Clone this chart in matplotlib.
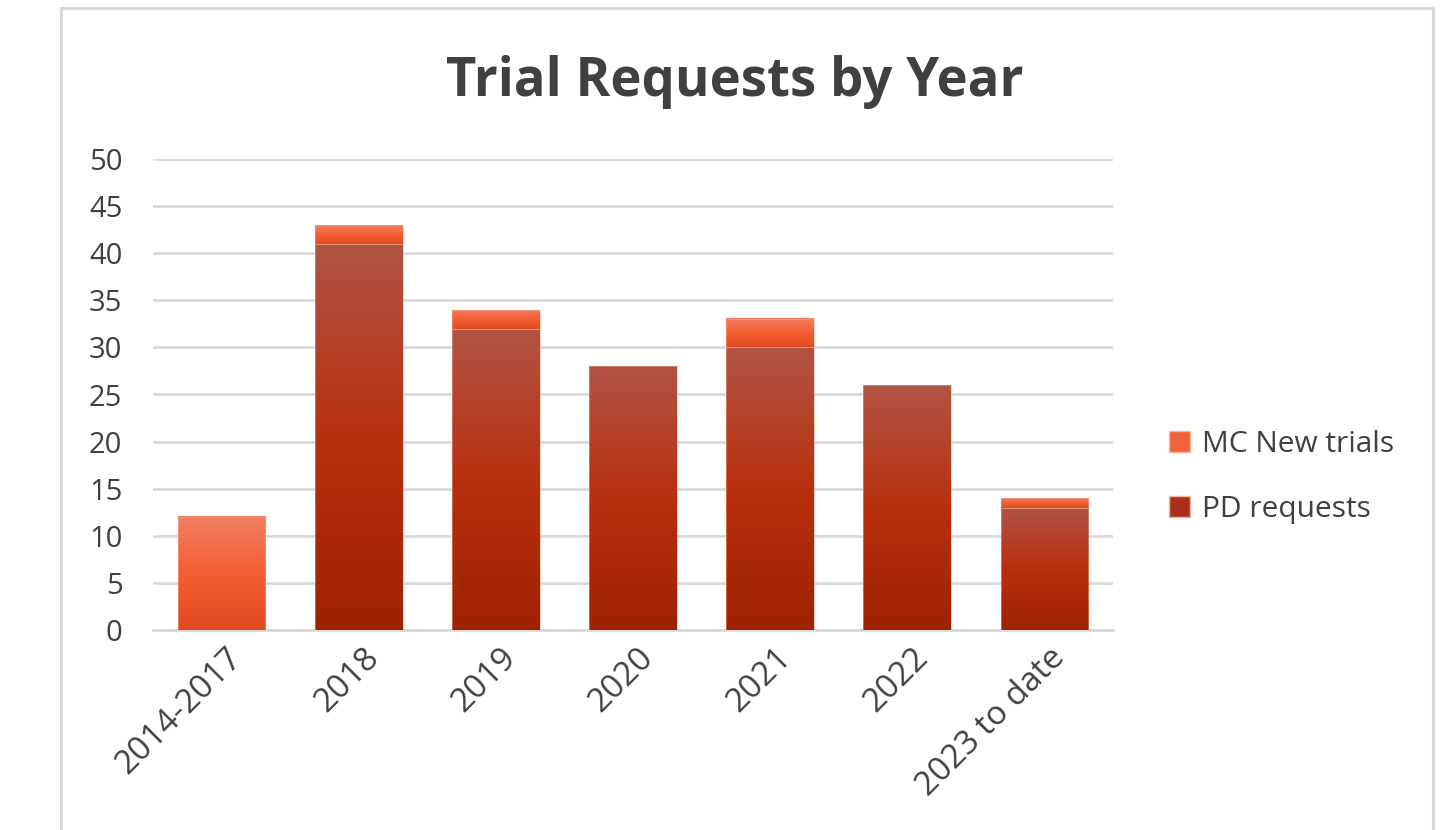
import numpy as np
import matplotlib.pyplot as plt
from matplotlib.colors import LinearSegmentedColormap
from matplotlib.patches import Rectangle, Patch
from matplotlib.transforms import ScaledTranslation

plt.rcParams['font.family'] = ['Open Sans', 'DejaVu Sans']

categories = ['2014-2017', '2018', '2019', '2020', '2021', '2022', '2023 to date']
pd_requests = [0, 41, 32, 28, 30, 26, 13]
mc_new_trials = [12, 2, 2, 0, 3, 0, 1]

# couleurs des degradés (bas -> haut)
cmap_pd = LinearSegmentedColormap.from_list('pd', ['#9E2200', '#B8300E', '#B05444'])
cmap_mc = LinearSegmentedColormap.from_list('mc', ['#E04A20', '#F45E33', '#F17E62'])
grid_col = '#D9D9D9'
txt_col = '#404040'

fig = plt.figure(figsize=(14.52, 8.30), dpi=100)
ax = fig.add_axes([153/1452, 1-630/830, 960/1452, 471/830])

# cadre gris autour du graphique
fig.patches.append(Rectangle((61/1452, -0.05), (1433-61)/1452, 1.05-8/830,
                             transform=fig.transFigure, fill=False,
                             edgecolor=grid_col, lw=2.2, zorder=0))

x = np.arange(len(categories))
w = 0.64
b1 = ax.bar(x, pd_requests, w, color='none', label='PD requests')
b2 = ax.bar(x, mc_new_trials, w, bottom=pd_requests, color='none', label='MC New trials')

grad = np.linspace(0, 1, 256).reshape(-1, 1)

def degrade(bars, cmap):
    for r in bars:
        h = r.get_height()
        if h <= 0:
            continue
        x0 = r.get_x()
        y0 = r.get_y()
        ax.imshow(grad, extent=[x0, x0 + r.get_width(), y0, y0 + h], origin='lower',
                  aspect='auto', cmap=cmap, zorder=3, interpolation='bilinear')
        ax.add_patch(Rectangle((x0, y0), r.get_width(), h, fill=False,
                               edgecolor='#F0A890', lw=0.5, alpha=0.7, zorder=4))

degrade(b1, cmap_pd)
degrade(b2, cmap_mc)

ax.set_xlim(-0.5, len(categories) - 0.5)
ax.set_ylim(0, 50)
ax.set_yticks(range(0, 51, 5))
ax.yaxis.grid(True, color=grid_col, lw=2)
ax.set_axisbelow(True)
for s in ['top', 'right', 'left']:
    ax.spines[s].set_visible(False)
ax.spines['bottom'].set_color(grid_col)
ax.spines['bottom'].set_linewidth(2)
ax.tick_params(axis='both', length=0, labelcolor=txt_col)
ax.tick_params(axis='y', pad=22, labelsize=21)
ax.set_xticks(x)
ax.set_xticklabels(categories, rotation=45, ha='right', rotation_mode='anchor')
ax.tick_params(axis='x', pad=8, labelsize=24)
decal = ScaledTranslation(3/72, 0, fig.dpi_scale_trans)
for lab in ax.get_xticklabels():
    lab.set_transform(lab.get_transform() + decal)

fig.text(735/1452, 1-82/830, 'Trial Requests by Year', ha='center', va='center',
         fontsize=38, fontweight='bold', color=txt_col)

handles = [Patch(facecolor='#F2623A', edgecolor='#F4B6A4'),
           Patch(facecolor='#A8301A', edgecolor='#F4B6A4')]
fig.legend(handles, ['MC New trials', 'PD requests'], loc='center left',
           bbox_to_anchor=(1142/1452, 1-477/830), frameon=False, fontsize=21.5,
           labelcolor=txt_col, labelspacing=1.22, handlelength=0.7, handleheight=0.7,
           handletextpad=0.4)

fig.savefig('out.png', dpi=100)
